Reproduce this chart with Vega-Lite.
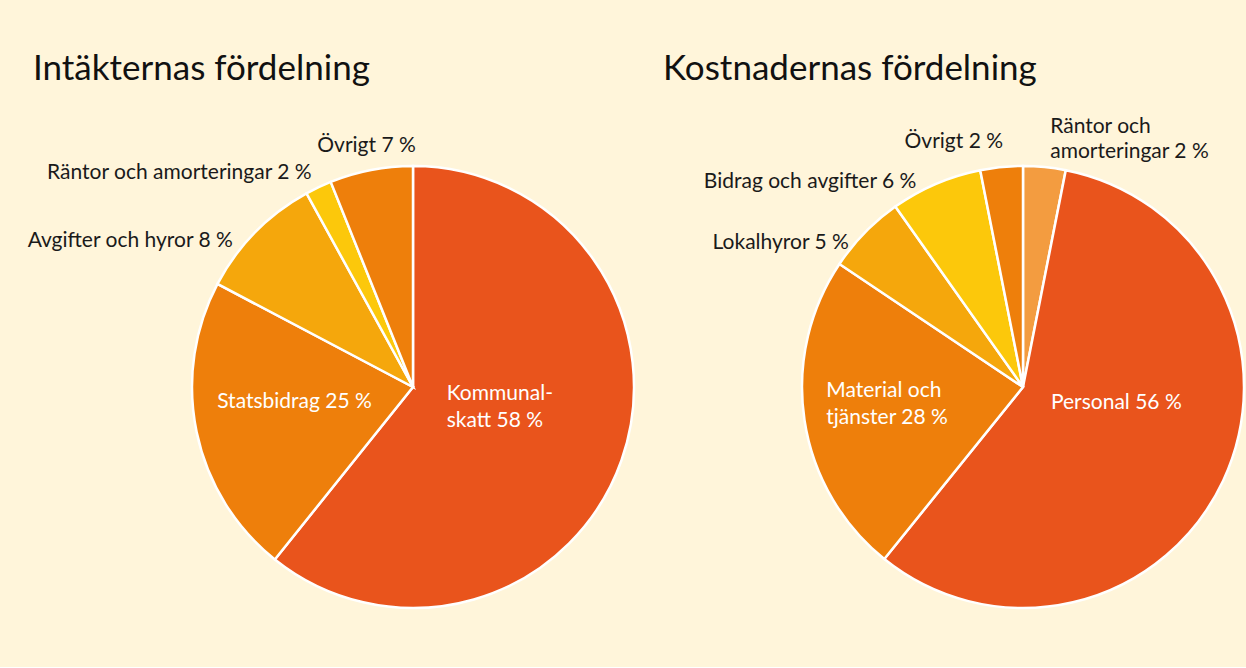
{
  "$schema": "https://vega.github.io/schema/vega-lite/v6.json",
  "background": "#FFF5DA",
  "padding": {"left": 26, "top": 52, "right": 0, "bottom": 0},
  "bounds": "flush",
  "spacing": 0,
  "datasets": {
    "intakter": [
      {"rank": 1, "name": "Kommunalskatt", "value": 60.75, "label": "Kommunal-\nskatt 58 %"},
      {"rank": 2, "name": "Statsbidrag", "value": 21.97, "label": "Statsbidrag 25 %"},
      {"rank": 3, "name": "Avgifter och hyror", "value": 9.28, "label": "Avgifter och hyror 8 %"},
      {"rank": 4, "name": "Räntor och amorteringar", "value": 1.93, "label": "Räntor och amorteringar 2 %"},
      {"rank": 5, "name": "Övrigt", "value": 6.07, "label": "Övrigt 7 %"}
    ],
    "kostnader": [
      {"rank": 1, "name": "Räntor och amorteringar", "value": 3.1, "label": "Räntor och\namorteringar 2 %"},
      {"rank": 2, "name": "Personal", "value": 57.7, "label": "Personal 56 %"},
      {"rank": 3, "name": "Material och tjänster", "value": 23.6, "label": "Material och\ntjänster 28 %"},
      {"rank": 4, "name": "Lokalhyror", "value": 5.8, "label": "Lokalhyror 5 %"},
      {"rank": 5, "name": "Bidrag och avgifter", "value": 6.7, "label": "Bidrag och avgifter 6 %"},
      {"rank": 6, "name": "Övrigt", "value": 3.1, "label": "Övrigt 2 %"}
    ]
  },
  "hconcat": [
    {
      "width": 774,
      "height": 560,
      "data": {"name": "intakter"},
      "title": {"text": "Intäkternas fördelning", "anchor": "start", "frame": "group", "dx": 7, "offset": -8, "baseline": "alphabetic", "font": "Lato", "fontSize": 35, "fontWeight": "normal", "color": "#111111"},
      "encoding": {
        "theta": {"field": "value", "type": "quantitative", "stack": true},
        "order": {"field": "rank", "type": "quantitative"},
        "detail": {"field": "name", "type": "nominal"}
      },
      "layer": [
        {
          "mark": {"type": "arc", "outerRadius": 221, "stroke": "#FFFFFF", "strokeWidth": 2.5},
          "encoding": {
            "color": {"field": "name", "type": "nominal", "legend": null,
              "scale": {"domain": ["Kommunalskatt", "Statsbidrag", "Avgifter och hyror", "Räntor och amorteringar", "Övrigt"],
                        "range": ["#E9541C", "#EE7F0B", "#F5A70C", "#FCC80B", "#EE7F0B"]}}
          }
        },
        {
          "mark": {"type": "text", "radius": 40, "align": "left", "baseline": "middle", "dx": -4, "dy": -6, "font": "Lato", "fontSize": 21, "color": "#FFFFFF", "lineBreak": "\n", "lineHeight": 27},
          "encoding": {"text": {"condition": {"test": "datum.rank === 1", "field": "label", "type": "nominal"}, "value": ""}}
        },
        {
          "mark": {"type": "text", "radius": 121, "align": "center", "baseline": "middle", "dy": -10, "font": "Lato", "fontSize": 21, "color": "#FFFFFF"},
          "encoding": {"text": {"condition": {"test": "datum.rank === 2", "field": "label", "type": "nominal"}, "value": ""}}
        },
        {
          "mark": {"type": "text", "radius": 230, "align": "right", "baseline": "middle", "dx": -16, "dy": 15, "font": "Lato", "fontSize": 21, "color": "#1A1A1A"},
          "encoding": {"text": {"condition": {"test": "datum.rank === 3", "field": "label", "type": "nominal"}, "value": ""}}
        },
        {
          "mark": {"type": "text", "radius": 237, "align": "right", "baseline": "middle", "font": "Lato", "fontSize": 21, "color": "#1A1A1A"},
          "encoding": {"text": {"condition": {"test": "datum.rank === 4", "field": "label", "type": "nominal"}, "value": ""}}
        },
        {
          "mark": {"type": "text", "radius": 245, "align": "center", "baseline": "middle", "font": "Lato", "fontSize": 21, "color": "#1A1A1A"},
          "encoding": {"text": {"condition": {"test": "datum.rank === 5", "field": "label", "type": "nominal"}, "value": ""}}
        }
      ]
    },
    {
      "width": 446,
      "height": 560,
      "data": {"name": "kostnader"},
      "title": {"text": "Kostnadernas fördelning", "anchor": "start", "frame": "group", "dx": -137, "offset": -8, "baseline": "alphabetic", "font": "Lato", "fontSize": 35, "fontWeight": "normal", "color": "#111111"},
      "encoding": {
        "theta": {"field": "value", "type": "quantitative", "stack": true},
        "order": {"field": "rank", "type": "quantitative"},
        "detail": {"field": "name", "type": "nominal"}
      },
      "layer": [
        {
          "mark": {"type": "arc", "outerRadius": 221, "stroke": "#FFFFFF", "strokeWidth": 2.5},
          "encoding": {
            "color": {"field": "name", "type": "nominal", "legend": null,
              "scale": {"domain": ["Räntor och amorteringar", "Personal", "Material och tjänster", "Lokalhyror", "Bidrag och avgifter", "Övrigt"],
                        "range": ["#F39C40", "#E9541C", "#EE7F0B", "#F5A70C", "#FCC80B", "#EE7F0B"]}}
          }
        },
        {
          "mark": {"type": "text", "radius": 249, "align": "left", "baseline": "middle", "dx": 3, "dy": -12, "font": "Lato", "fontSize": 21, "color": "#1A1A1A", "lineBreak": "\n", "lineHeight": 25},
          "encoding": {"text": {"condition": {"test": "datum.rank === 1", "field": "label", "type": "nominal"}, "value": ""}}
        },
        {
          "mark": {"type": "text", "radius": 103, "align": "center", "baseline": "middle", "dy": -28, "font": "Lato", "fontSize": 21, "color": "#FFFFFF"},
          "encoding": {"text": {"condition": {"test": "datum.rank === 2", "field": "label", "type": "nominal"}, "value": ""}}
        },
        {
          "mark": {"type": "text", "radius": 199, "align": "left", "baseline": "middle", "dy": -26, "font": "Lato", "fontSize": 21, "color": "#FFFFFF", "lineBreak": "\n", "lineHeight": 27},
          "encoding": {"text": {"condition": {"test": "datum.rank === 3", "field": "label", "type": "nominal"}, "value": ""}}
        },
        {
          "mark": {"type": "text", "radius": 225, "align": "right", "baseline": "middle", "dx": -13, "dy": 13, "font": "Lato", "fontSize": 21, "color": "#1A1A1A"},
          "encoding": {"text": {"condition": {"test": "datum.rank === 4", "field": "label", "type": "nominal"}, "value": ""}}
        },
        {
          "mark": {"type": "text", "radius": 235, "align": "right", "baseline": "middle", "dx": -14, "dy": 11, "font": "Lato", "fontSize": 21, "color": "#1A1A1A"},
          "encoding": {"text": {"condition": {"test": "datum.rank === 5", "field": "label", "type": "nominal"}, "value": ""}}
        },
        {
          "mark": {"type": "text", "radius": 246, "align": "right", "baseline": "middle", "dx": 4, "font": "Lato", "fontSize": 21, "color": "#1A1A1A"},
          "encoding": {"text": {"condition": {"test": "datum.rank === 6", "field": "label", "type": "nominal"}, "value": ""}}
        }
      ]
    }
  ],
  "resolve": {"scale": {"color": "independent", "theta": "independent"}},
  "config": {"view": {"stroke": null}}
}
